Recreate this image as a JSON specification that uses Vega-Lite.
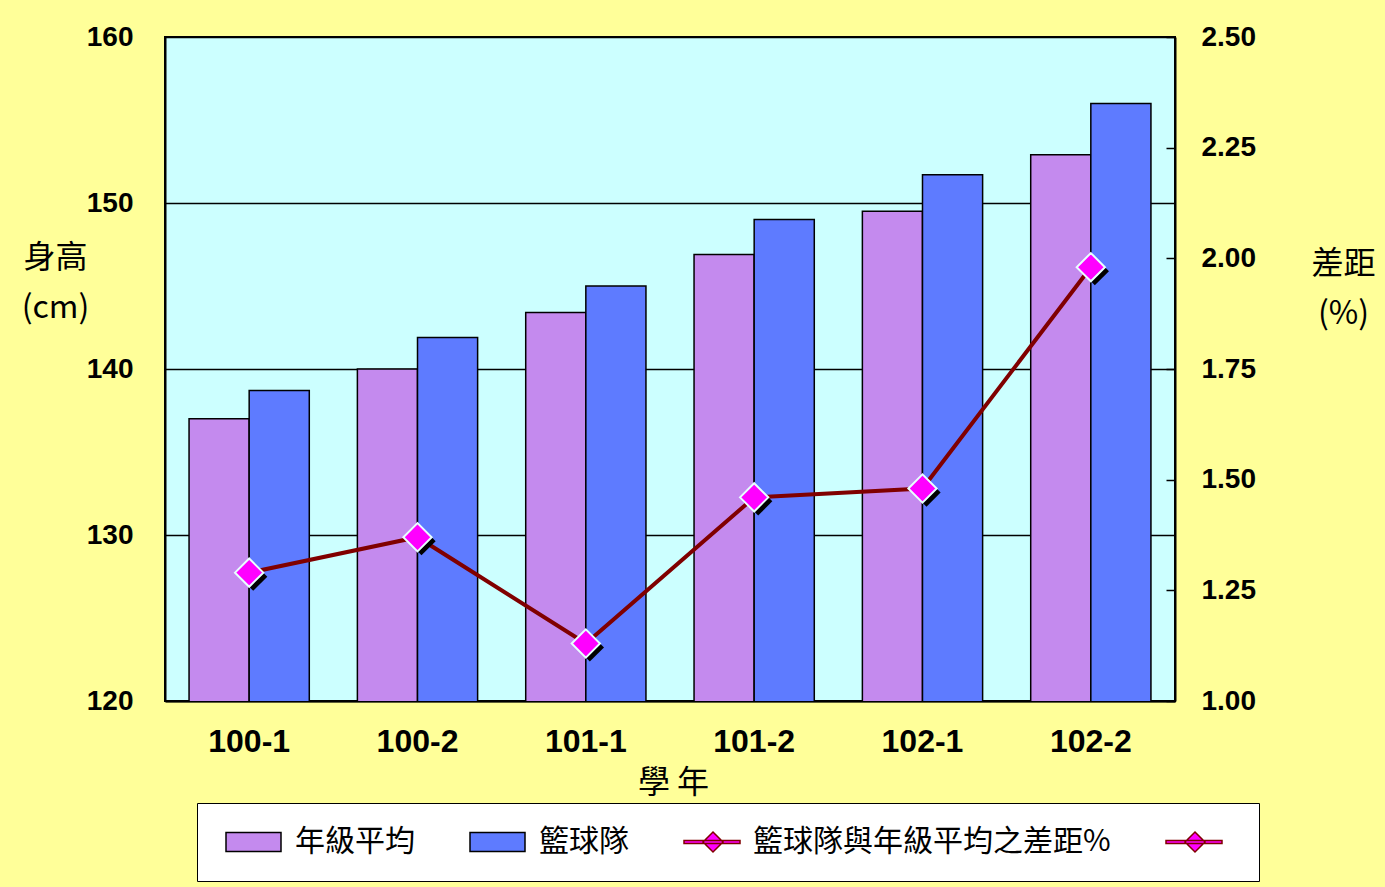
{
  "$schema": "https://vega.github.io/schema/vega-lite/v6.json",
  "width": 1010,
  "height": 664,
  "autosize": {"type": "none"},
  "padding": {"left": 165, "top": 37, "right": 210, "bottom": 186},
  "background": "#FFFF99",
  "config": {
    "view": {"fill": "#CCFFFF", "stroke": "black", "strokeWidth": 2},
    "font": "Liberation Sans"
  },
  "datasets": {
    "bars": [
      {"year": "100-1", "series": "年級平均", "height": 137.0},
      {"year": "100-1", "series": "籃球隊", "height": 138.7},
      {"year": "100-2", "series": "年級平均", "height": 140.0},
      {"year": "100-2", "series": "籃球隊", "height": 141.9},
      {"year": "101-1", "series": "年級平均", "height": 143.4},
      {"year": "101-1", "series": "籃球隊", "height": 145.0},
      {"year": "101-2", "series": "年級平均", "height": 146.9},
      {"year": "101-2", "series": "籃球隊", "height": 149.0},
      {"year": "102-1", "series": "年級平均", "height": 149.5},
      {"year": "102-1", "series": "籃球隊", "height": 151.7},
      {"year": "102-2", "series": "年級平均", "height": 152.9},
      {"year": "102-2", "series": "籃球隊", "height": 156.0}
    ],
    "diff": [
      {"year": "100-1", "pct": 1.29},
      {"year": "100-2", "pct": 1.37},
      {"year": "101-1", "pct": 1.13},
      {"year": "101-2", "pct": 1.46},
      {"year": "102-1", "pct": 1.48},
      {"year": "102-2", "pct": 1.98}
    ]
  },
  "encoding": {
    "x": {
      "field": "year", "type": "nominal",
      "scale": {"paddingInner": 0.2857, "paddingOuter": 0.1429},
      "axis": {
        "title": "學 年", "labelAngle": 0, "ticks": false,
        "domainColor": "black", "domainWidth": 2,
        "labelFont": "Liberation Sans", "labelFontWeight": "bold", "labelFontSize": 32, "labelColor": "black", "labelPadding": 25,
        "titleFont": "Noto Sans CJK TC", "titleFontSize": 32, "titleFontWeight": "normal", "titleColor": "black",
        "titleX": 508, "titleY": 66, "titleBaseline": "top", "titleAlign": "center"
      }
    }
  },
  "layer": [
    {
      "data": {"name": "bars"},
      "mark": {"type": "bar", "stroke": "black", "strokeWidth": 1.5, "clip": true},
      "encoding": {
        "xOffset": {"field": "series", "type": "nominal", "scale": {"domain": ["年級平均", "籃球隊"], "paddingInner": 0, "paddingOuter": 0}},
        "y": {
          "field": "height", "type": "quantitative",
          "scale": {"domain": [120, 160], "zero": false, "nice": false},
          "axis": {
            "values": [120, 130, 140, 150, 160], "grid": true, "gridColor": "black", "gridWidth": 1.5, "gridOpacity": 1,
            "ticks": false, "domainColor": "black", "domainWidth": 2,
            "labelFont": "Liberation Sans", "labelFontWeight": "bold", "labelFontSize": 28, "labelColor": "black", "labelPadding": 32,
            "title": ["身高", "(cm)"], "titleFont": "Noto Sans CJK TC", "titleFontSize": 32, "titleFontWeight": "normal", "titleColor": "black",
            "titleAngle": 0, "titleX": -110, "titleY": 205, "titleAlign": "center", "titleBaseline": "top", "titleLineHeight": 50
          }
        },
        "fill": {
          "field": "series", "type": "nominal",
          "scale": {
            "domain": ["年級平均", "籃球隊", "籃球隊與年級平均之差距%", "x4"],
            "range": ["#C48AEE", "#5E7BFF", "#FF00FF", "#FF00FF"]
          },
          "legend": {
            "orient": "none", "legendX": 32, "legendY": 766, "direction": "horizontal", "columns": 4, "gridAlign": "none",
            "title": null, "fillColor": "white", "strokeColor": "black", "padding": 24, "columnPadding": 50,
            "symbolSize": 400, "symbolOpacity": 1, "symbolStrokeWidth": 1.5,
            "labelFont": "Noto Sans CJK TC", "labelFontSize": 30, "labelColor": "black", "labelOffset": 44, "labelLimit": 600,
            "labelExpr": "datum.value == 'x4' ? '' : datum.label"
          }
        }
      }
    },
    {
      "data": {"name": "bars"},
      "mark": {"type": "point", "filled": true, "opacity": 0},
      "encoding": {
        "y": {"field": "height", "type": "quantitative", "axis": null},
        "fill": {"field": "series", "type": "nominal"},
        "shape": {
          "field": "series", "type": "nominal",
          "scale": {
            "domain": ["年級平均", "籃球隊", "籃球隊與年級平均之差距%", "x4"],
            "range": ["M-1,-0.95H4.5V0.95H-1Z", "M-1,-0.95H4.5V0.95H-1Z", "M-1,-0.15H4.6V0.15H-1Z M1.9,-1L2.9,0L1.9,1L0.9,0Z", "M-1,-0.15H4.6V0.15H-1Z M1.9,-1L2.9,0L1.9,1L0.9,0Z"]
          }
        },
        "stroke": {
          "field": "series", "type": "nominal",
          "scale": {
            "domain": ["年級平均", "籃球隊", "籃球隊與年級平均之差距%", "x4"],
            "range": ["black", "black", "#800000", "#800000"]
          }
        }
      }
    },
    {
      "data": {"name": "diff"},
      "encoding": {
        "y": {
          "field": "pct", "type": "quantitative",
          "scale": {"domain": [1, 2.5], "zero": false, "nice": false},
          "axis": {
            "orient": "right", "values": [1, 1.25, 1.5, 1.75, 2, 2.25, 2.5], "format": ".2f", "grid": false,
            "ticks": true, "tickSize": -9, "tickColor": "black", "tickWidth": 1.5,
            "domainColor": "black", "domainWidth": 2,
            "labelFont": "Liberation Sans", "labelFontWeight": "bold", "labelFontSize": 28, "labelColor": "black", "labelPadding": 35,
            "title": ["差距", "(%)"], "titleFont": "Noto Sans CJK TC", "titleFontSize": 32, "titleFontWeight": "normal", "titleColor": "black",
            "titleAngle": 0, "titleX": 168, "titleY": 211, "titleAlign": "center", "titleBaseline": "top", "titleLineHeight": 50
          }
        }
      },
      "layer": [
        {
          "mark": {"type": "line", "color": "#800000", "strokeWidth": 4}
        },
        {
          "mark": {"type": "point", "shape": "diamond", "filled": true, "fill": "black", "size": 800, "xOffset": 4, "yOffset": 4, "opacity": 1}
        },
        {
          "mark": {"type": "point", "shape": "diamond", "filled": true, "fill": "#FF00FF", "stroke": "#E8FFFF", "strokeWidth": 2, "size": 800, "opacity": 1}
        }
      ]
    }
  ],
  "resolve": {"scale": {"y": "independent"}}
}
